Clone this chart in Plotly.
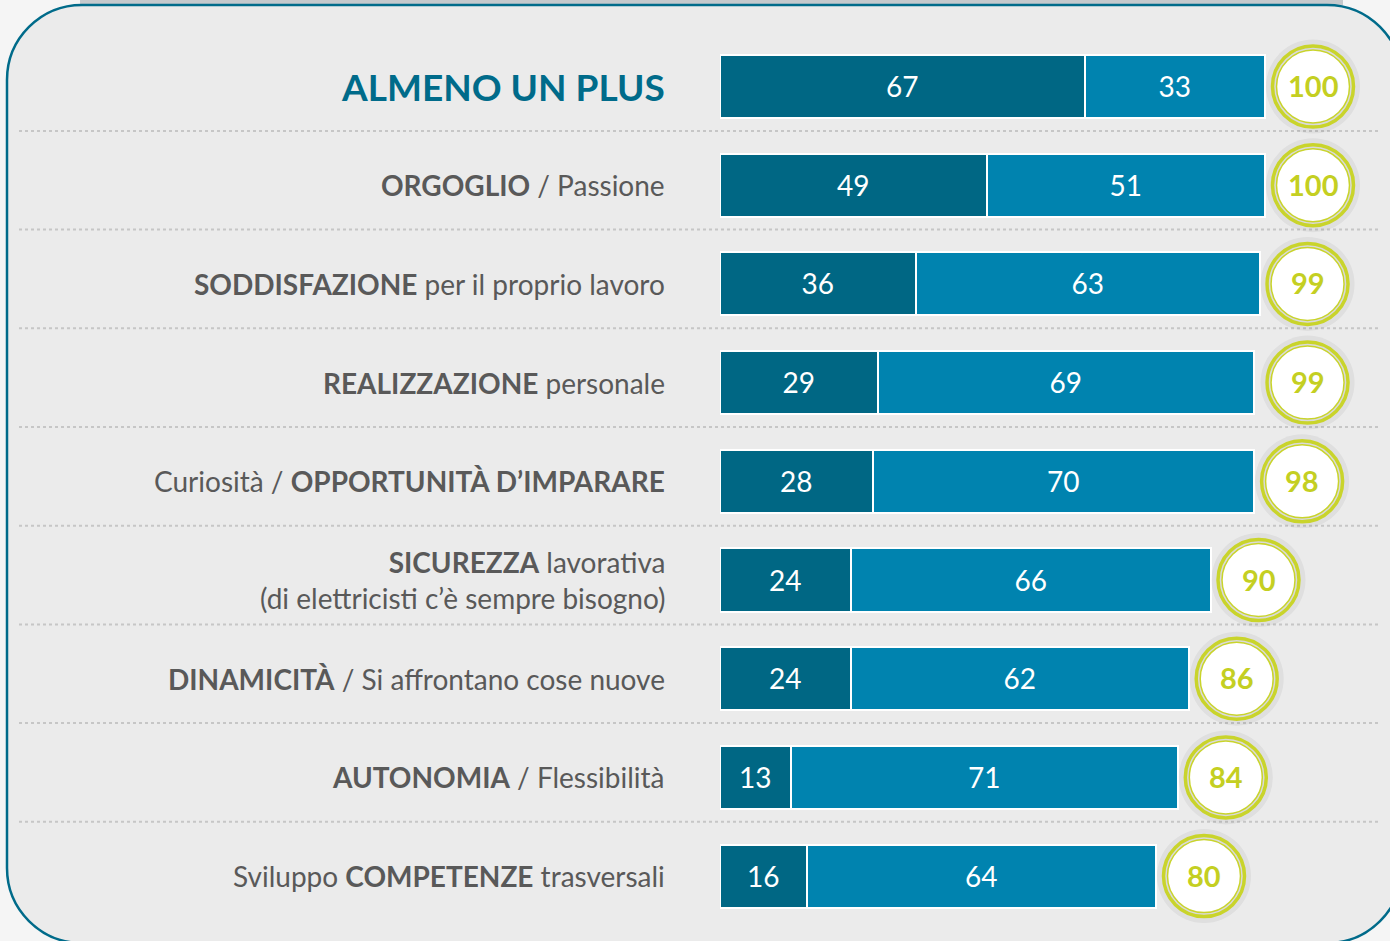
import plotly.graph_objects as go

# ---- data ----
labels = [
    "<b>ALMENO UN PLUS</b>",
    "<b>ORGOGLIO</b> / Passione",
    "<b>SODDISFAZIONE</b> per il proprio lavoro",
    "<b>REALIZZAZIONE</b> personale",
    "Curiosità / <b>OPPORTUNITÀ D’IMPARARE</b>",
    "<b>SICUREZZA</b> lavorativa<br>(di elettricisti c’è sempre bisogno)",
    "<b>DINAMICITÀ</b> / Si affrontano cose nuove",
    "<b>AUTONOMIA</b> / Flessibilità",
    "Sviluppo <b>COMPETENZE</b> trasversali",
]
dark_values = [67, 49, 36, 29, 28, 24, 24, 13, 16]
light_values = [33, 51, 63, 69, 70, 66, 62, 71, 64]
totals = [100, 100, 99, 99, 98, 90, 86, 84, 80]

# ---- style ----
W, H = 1390, 941
DARK = "#006784"
LIGHT = "#0083af"
LIME = "#c9d42b"
TEXT_GRAY = "#595959"
TITLE_BLUE = "#006b8a"
FONT = "Lato"

idx = list(range(len(labels)))
PX_PER_UNIT = 5.45
x_start_px = 720
x_range = [0, (W - x_start_px) / PX_PER_UNIT]
row0_px, row_step = 86.5, 98.7
y_range = [(H - row0_px) / row_step, -row0_px / row_step]
circle_offset = 48 / PX_PER_UNIT

fig = go.Figure()

fig.add_trace(go.Bar(
    orientation="h", y=idx, x=dark_values, width=0.64,
    marker=dict(color=DARK, line=dict(color="white", width=2.5)),
    text=[str(v) for v in dark_values], textposition="inside",
    insidetextanchor="middle", textangle=0,
    insidetextfont=dict(color="white", size=28, family=FONT),
    hoverinfo="skip", showlegend=False,
))
fig.add_trace(go.Bar(
    orientation="h", y=idx, x=light_values, width=0.64,
    marker=dict(color=LIGHT, line=dict(color="white", width=2.5)),
    text=[str(v) for v in light_values], textposition="inside",
    insidetextanchor="middle", textangle=0,
    insidetextfont=dict(color="white", size=28, family=FONT),
    hoverinfo="skip", showlegend=False,
))

cx = [t + circle_offset for t in totals]
# shadow
fig.add_trace(go.Scatter(
    x=cx, y=idx, mode="markers", hoverinfo="skip", showlegend=False,
    marker=dict(size=94, color="rgba(0,0,0,0.05)", line=dict(width=0)),
))
# outer ring
fig.add_trace(go.Scatter(
    x=cx, y=idx, mode="markers", hoverinfo="skip", showlegend=False,
    marker=dict(size=81, color="#dadada", line=dict(color=LIME, width=3.5)),
))
# inner disc
fig.add_trace(go.Scatter(
    x=cx, y=idx, mode="markers", hoverinfo="skip", showlegend=False,
    marker=dict(size=73, color="white", line=dict(color=LIME, width=1.5)),
))
# totals text
for i, t in enumerate(totals):
    fig.add_annotation(
        x=cx[i], xref="x", y=i, yref="y", xanchor="center", yanchor="middle",
        yshift=1, text=f"<b>{t}</b>", showarrow=False,
        font=dict(color="#c4cf22", size=29, family=FONT),
    )

# labels
for i, lab in enumerate(labels):
    if i == 0:
        font = dict(family=FONT, size=37, color=TITLE_BLUE)
    else:
        font = dict(family=FONT, size=28, color=TEXT_GRAY)
    fig.add_annotation(
        x=667 / W, xref="paper", y=i, yref="y",
        xanchor="right", yanchor="middle", align="right",
        text=lab, showarrow=False, font=font,
    )

shapes = []

def X(px):
    return px / W

def Y(py):
    return 1 - py / H

# rounded rectangle frame
L, T, R, B, r = 7, 5, 1402, 943, 75
k = 0.5523 * r
path = (
    f"M {X(L + r)},{Y(T)} L {X(R - r)},{Y(T)} "
    f"C {X(R - r + k)},{Y(T)} {X(R)},{Y(T + r - k)} {X(R)},{Y(T + r)} "
    f"L {X(R)},{Y(B - r)} "
    f"C {X(R)},{Y(B - r + k)} {X(R - r + k)},{Y(B)} {X(R - r)},{Y(B)} "
    f"L {X(L + r)},{Y(B)} "
    f"C {X(L + r - k)},{Y(B)} {X(L)},{Y(B - r + k)} {X(L)},{Y(B - r)} "
    f"L {X(L)},{Y(T + r)} "
    f"C {X(L)},{Y(T + r - k)} {X(L + r - k)},{Y(T)} {X(L + r)},{Y(T)} Z"
)
shapes.append(dict(type="rect", xref="paper", yref="paper",
                   x0=X(80), x1=X(1343), y0=Y(0), y1=Y(5),
                   fillcolor="#c5c9cc", line=dict(width=0), layer="below"))
shapes.append(dict(type="path", xref="paper", yref="paper", path=path,
                   fillcolor="#ebebeb", line=dict(color="#006b8a", width=2.5),
                   layer="below"))

# dotted separators
for i in idx[:-1]:
    shapes.append(dict(type="line", xref="paper", yref="y",
                       x0=X(19), x1=X(1380), y0=i + 0.45, y1=i + 0.45,
                       line=dict(color="#c6c6c6", width=2, dash="dot"),
                       layer="below"))

fig.update_layout(
    width=W, height=H,
    margin=dict(l=0, r=0, t=0, b=0),
    paper_bgcolor="#f5f5f5", plot_bgcolor="rgba(0,0,0,0)",
    barmode="stack", bargap=0,
    xaxis=dict(domain=[x_start_px / W, 1], range=x_range, visible=False, fixedrange=True),
    yaxis=dict(domain=[0, 1], range=y_range, visible=False, fixedrange=True),
    shapes=shapes,
    font=dict(family=FONT),
    showlegend=False,
)
fig.update_traces(cliponaxis=False, selector=dict(type="scatter"))
fig.update_traces(cliponaxis=False, selector=dict(type="bar"))

fig.write_html(
    "out.html",
    config={"displayModeBar": False},
    post_script="document.body.style.margin='0';document.body.style.overflow='hidden';",
)
